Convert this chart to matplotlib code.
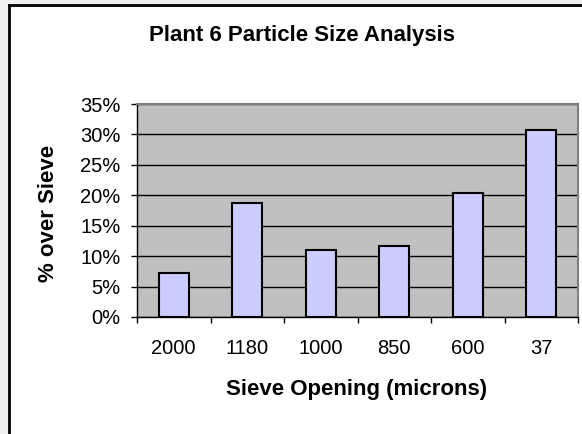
import matplotlib
matplotlib.use("Agg")
import matplotlib.pyplot as plt
import numpy as np
from matplotlib.ticker import PercentFormatter

# valeurs
sieve_labels = ["2000", "1180", "1000", "850", "600", "37"]
pct_over = [7.2, 18.8, 11.0, 11.7, 20.4, 30.7]
y_ticks = [0, 5, 10, 15, 20, 25, 30, 35]

plt.rcParams['font.family'] = ['Liberation Sans', 'DejaVu Sans']

W, H = 582, 434
fig = plt.figure(figsize=(W / 100, H / 100), dpi=100, facecolor='white')

# bande grise en haut et à gauche + cadre noir du graphique
fig.patches.append(plt.Rectangle((0, 0), 8 / W, 1, transform=fig.transFigure,
                                 facecolor='#f0f0f0', edgecolor='none', zorder=0))
fig.patches.append(plt.Rectangle((0, 1 - 4 / H), 1, 4 / H, transform=fig.transFigure,
                                 facecolor='#f0f0f0', edgecolor='none', zorder=0))
fig.add_artist(plt.Line2D([9 / W, 9 / W], [0, 1 - 5 / H], color='black', lw=2,
                          transform=fig.transFigure))
fig.add_artist(plt.Line2D([9 / W, 1], [1 - 5 / H, 1 - 5 / H], color='black', lw=2,
                          transform=fig.transFigure))

left, right, top, bottom = 137, 578, 104, 317
ax = fig.add_axes([left / W, 1 - bottom / H, (right - left) / W, (bottom - top) / H])
ax.set_facecolor('#c0c0c0')

x = np.arange(len(sieve_labels))
ax.bar(x, pct_over, width=0.41, color='#ccccff', edgecolor='black', linewidth=1.5, zorder=3)

ax.set_xlim(-0.5, len(sieve_labels) - 0.5)
ax.set_ylim(0, 35)
ax.set_yticks(y_ticks)
ax.yaxis.set_major_formatter(PercentFormatter(decimals=0))
ax.yaxis.grid(True, color='black', linewidth=1, zorder=1)

ax.set_xticks(np.arange(len(sieve_labels) + 1) - 0.5)
ax.set_xticklabels([])
ax.set_xticks(x, minor=True)
ax.set_xticklabels(sieve_labels, minor=True)
ax.tick_params(axis='x', which='minor', length=0, pad=16, labelsize=14.5)
ax.tick_params(axis='x', which='major', length=4, width=1, direction='out')
ax.tick_params(axis='y', length=4, width=1, direction='out', labelsize=14.5, pad=8)

for s in ['top', 'right']:
    ax.spines[s].set_color('#808080')
    ax.spines[s].set_linewidth(1.5)
for s in ['left', 'bottom']:
    ax.spines[s].set_color('black')
    ax.spines[s].set_linewidth(1)

fig.text(302 / W, 1 - 35 / H, "Plant 6 Particle Size Analysis", ha='center', va='center',
         fontsize=16, fontweight='bold')
fig.text(48 / W, 1 - 213 / H, "% over Sieve", ha='center', va='center', rotation=90,
         fontsize=16, fontweight='bold')
fig.text(357 / W, 1 - 390 / H, "Sieve Opening (microns)", ha='center', va='center',
         fontsize=16, fontweight='bold')

fig.savefig("out.png", dpi=100)
